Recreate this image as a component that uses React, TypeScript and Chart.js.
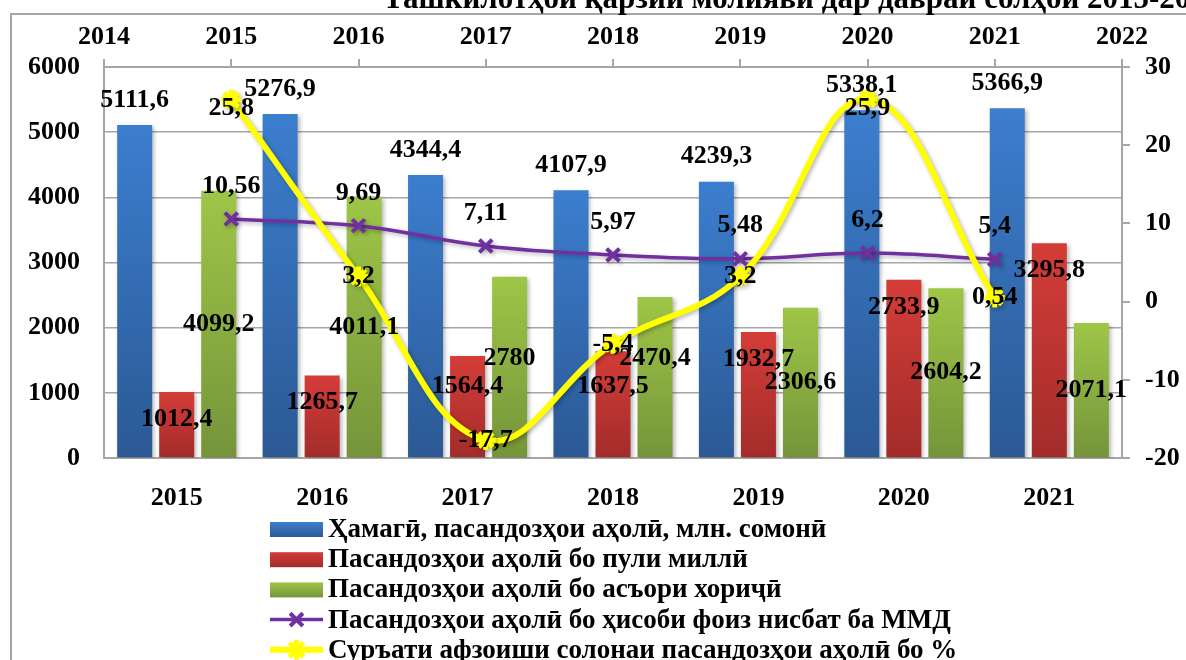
import { useEffect, useRef } from 'react';
import { Chart, registerables } from 'chart.js';

Chart.register(...registerables);

const categories = ['2015', '2016', '2017', '2018', '2019', '2020', '2021'];
const topAxisLabels = ['2014', '2015', '2016', '2017', '2018', '2019', '2020', '2021', '2022'];
const totalDeposits = [5111.6, 5276.9, 4344.4, 4107.9, 4239.3, 5338.1, 5366.9];
const nationalCurrency = [1012.4, 1265.7, 1564.4, 1637.5, 1932.7, 2733.9, 3295.8];
const foreignCurrency = [4099.2, 4011.1, 2780, 2470.4, 2306.6, 2604.2, 2071.1];
const shareOfGdp = [null, 10.56, 9.69, 7.11, 5.97, 5.48, 6.2, 5.4, null];
const annualGrowth = [null, 25.8, 3.2, -17.7, -5.4, 3.2, 25.9, 0.54, null];

const seriesNames = [
  'Ҳамагӣ, пасандозҳои аҳолӣ, млн. сомонӣ',
  'Пасандозҳои аҳолӣ бо пули миллӣ',
  'Пасандозҳои аҳолӣ бо асъори хориҷӣ',
  'Пасандозҳои аҳолӣ бо ҳисоби фоиз нисбат ба ММД',
  'Суръати афзоиши солонаи пасандозҳои аҳолӣ бо %',
];
const titleText = 'Ташкилотҳои қарзии молиявӣ дар давраи солҳои 2015-2021';

const FONT = '"Liberation Serif", "Times New Roman", serif';
const GRID = '#a6a6a6';

const BLUE = ['#3c7ecf', '#2b5994'];
const RED = ['#d43d38', '#a22c2a'];
const GREEN = ['#9ec647', '#75943a'];
const PURPLE = '#7030a0';
const YELLOW = '#ffff00';

const W = 1186;
const H = 660;
const AREA = { left: 104, right: 1122, top: 67, bottom: 458 };

const fmt = (v: number) => String(v).replace('.', ',');

function barBg(colors: string[]) {
  return (context: any) => {
    const chart = context.chart;
    const { ctx, chartArea, scales } = chart;
    if (!chartArea || context.type !== 'data' || !scales.y) return colors[0];
    const v = context.raw as number;
    const yTop = scales.y.getPixelForValue(v);
    const yBot = scales.y.getPixelForValue(0);
    if (!isFinite(yTop) || !isFinite(yBot) || yTop === yBot) return colors[0];
    const g = ctx.createLinearGradient(0, yTop, 0, yBot);
    g.addColorStop(0, colors[0]);
    g.addColorStop(1, colors[1]);
    return g;
  };
}

const shadowPlugin = {
  id: 'shadow',
  beforeDatasetDraw(chart: any) {
    const ctx = chart.ctx;
    ctx.save();
    ctx.shadowColor = 'rgba(0,0,0,0.28)';
    ctx.shadowBlur = 4;
    ctx.shadowOffsetX = 2;
    ctx.shadowOffsetY = 2;
  },
  afterDatasetDraw(chart: any) {
    chart.ctx.restore();
  },
};

type Lbl = { text: string; x: number; y: number; j: number };

function collectLabels(chart: any): Lbl[] {
  const { chartArea } = chart;
  const out: Lbl[] = [];
  chart.data.datasets.forEach((ds: any, i: number) => {
    const meta = chart.getDatasetMeta(i);
    const mode = ds.labelMode;
    meta.data.forEach((el: any, j: number) => {
      const v = ds.data[j];
      if (v == null) return;
      let y = el.y;
      if (mode === 'outsideEnd') y = el.y - 25;
      else if (mode === 'insideEnd') y = el.y + 27;
      else if (mode === 'center') y = (el.y + el.base) / 2;
      else if (mode === 'above') y = el.y - 33;
      else if (mode === 'onPoint') y = Math.max(el.y, chartArea.top + 41);
      out.push({ text: fmt(v), x: el.x, y, j });
    });
  });
  return out;
}

// keep neighbouring bar labels of one category from printing over each other
function separate(labels: Lbl[]) {
  for (let a = 0; a < labels.length; a++) {
    for (let b = a + 1; b < labels.length; b++) {
      const p = labels[a];
      const q = labels[b];
      if (p.j !== q.j) continue;
      if (Math.abs(p.x - q.x) > 80) continue;
      const upper = p.y <= q.y ? p : q;
      const lower = upper === p ? q : p;
      const d = lower.y - upper.y;
      if (d >= 22) continue;
      const need = 28 - d;
      upper.y -= need * 0.7;
      lower.y += need * 0.3;
    }
  }
  return labels;
}

const framePlugin = {
  id: 'frame',
  beforeDraw(chart: any) {
    const ctx = chart.ctx;
    ctx.save();
    ctx.fillStyle = '#fff';
    ctx.fillRect(0, 0, chart.width, chart.height);
    ctx.strokeStyle = GRID;
    ctx.lineWidth = 2;
    ctx.beginPath();
    ctx.moveTo(11, chart.height);
    ctx.lineTo(11, 14);
    ctx.lineTo(chart.width, 14);
    ctx.stroke();
    ctx.font = `bold 31px ${FONT}`;
    ctx.fillStyle = '#000';
    ctx.textAlign = 'left';
    ctx.textBaseline = 'alphabetic';
    ctx.fillText(titleText, 383, 8);
    ctx.restore();
  },
};

function drawLegend(ctx: CanvasRenderingContext2D, datasets: any[]) {
  const x0 = 270;
  const x1 = 323;
  datasets.forEach((ds: any, i: number) => {
    const cy = 529 + i * 30.2;
    ctx.save();
    if (ds.type === 'bar') {
      const g = ctx.createLinearGradient(0, cy - 7, 0, cy + 8);
      g.addColorStop(0, ds.gradientColors[0]);
      g.addColorStop(1, ds.gradientColors[1]);
      ctx.fillStyle = g;
      ctx.fillRect(x0, cy - 7, x1 - x0, 15);
    } else {
      ctx.strokeStyle = ds.borderColor;
      ctx.lineWidth = ds.borderWidth;
      ctx.beginPath();
      ctx.moveTo(x0, cy);
      ctx.lineTo(x1, cy);
      ctx.stroke();
      const r = ds.pointRadius;
      ctx.lineWidth = ds.pointBorderWidth;
      ctx.beginPath();
      const cx = (x0 + x1) / 2;
      const o = Math.cos(Math.PI / 4) * r;
      ctx.moveTo(cx - o, cy - o); ctx.lineTo(cx + o, cy + o);
      ctx.moveTo(cx - o, cy + o); ctx.lineTo(cx + o, cy - o);
      if (ds.pointStyle === 'star') {
        ctx.moveTo(cx, cy - r); ctx.lineTo(cx, cy + r);
        ctx.moveTo(cx - r, cy); ctx.lineTo(cx + r, cy);
      }
      ctx.stroke();
    }
    ctx.font = `bold 27px ${FONT}`;
    ctx.fillStyle = '#000';
    ctx.textAlign = 'left';
    ctx.textBaseline = 'middle';
    ctx.fillText(ds.label, 328, cy + 1);
    ctx.restore();
  });
}

const tickFont = { family: FONT, size: 26, weight: 'bold' as const };

export default function App() {
  const barRef = useRef<HTMLCanvasElement | null>(null);
  const lineRef = useRef<HTMLCanvasElement | null>(null);

  useEffect(() => {
    if (!barRef.current || !lineRef.current) return;

    const barDataset = (label: string, data: number[], colors: string[], labelMode: string) => ({
      type: 'bar',
      label,
      data,
      backgroundColor: barBg(colors),
      gradientColors: colors,
      labelMode,
      categoryPercentage: 0.867,
      barPercentage: 0.833,
    });

    const barChart = new Chart(barRef.current, {
      type: 'bar',
      data: {
        labels: categories,
        datasets: [
          barDataset(seriesNames[0], totalDeposits, BLUE, 'outsideEnd'),
          barDataset(seriesNames[1], nationalCurrency, RED, 'insideEnd'),
          barDataset(seriesNames[2], foreignCurrency, GREEN, 'center'),
        ] as any,
      },
      options: {
        responsive: false,
        animation: false,
        devicePixelRatio: 1,
        layout: { padding: { top: AREA.top, left: 0, right: W - AREA.right, bottom: 140 } },
        plugins: { legend: { display: false }, tooltip: { enabled: false } },
        scales: {
          x: {
            type: 'category',
            position: 'bottom',
            offset: true,
            grid: { display: true, drawOnChartArea: false, drawTicks: false, color: GRID },
            border: { display: true, color: GRID, width: 2 },
            ticks: { font: tickFont, color: '#000', padding: 25, maxRotation: 0, autoSkip: false },
            afterFit: (s: any) => { s.height = H - 140 - AREA.bottom; },
          },
          y: {
            type: 'linear',
            position: 'left',
            min: 0,
            max: 6000,
            grid: { color: GRID, lineWidth: 1.5, drawTicks: false },
            border: { display: true, color: GRID, width: 2 },
            ticks: { stepSize: 1000, font: tickFont, color: '#000', padding: 24, callback: (v: any) => String(v) },
            afterFit: (s: any) => { s.width = AREA.left; },
          },
        },
      } as any,
      plugins: [framePlugin, shadowPlugin],
    });

    const topPlugin = {
      id: 'labelsAndLegend',
      afterDatasetsDraw(chart: any) {
        const ctx = chart.ctx;
        ctx.save();
        ctx.font = `bold 26px ${FONT}`;
        ctx.fillStyle = '#000';
        ctx.textAlign = 'center';
        ctx.textBaseline = 'middle';
        const all = [...separate(collectLabels(barChart)), ...collectLabels(chart)];
        all.forEach((l) => ctx.fillText(l.text, l.x, l.y));
        ctx.restore();
      },
      afterDraw(chart: any) {
        drawLegend(chart.ctx, [...barChart.data.datasets, ...chart.data.datasets]);
      },
    };

    const lineChart = new Chart(lineRef.current, {
      type: 'line',
      data: {
        labels: topAxisLabels,
        datasets: [
          {
            type: 'line',
            label: seriesNames[3],
            data: shareOfGdp,
            borderColor: PURPLE,
            backgroundColor: PURPLE,
            borderWidth: 3.5,
            pointStyle: 'crossRot',
            pointRadius: 9,
            pointBorderWidth: 4,
            pointBorderColor: PURPLE,
            tension: 0.4,
            labelMode: 'above',
            xAxisID: 'xTop',
            yAxisID: 'yRight',
            order: 2,
          },
          {
            type: 'line',
            label: seriesNames[4],
            data: annualGrowth,
            borderColor: YELLOW,
            backgroundColor: YELLOW,
            borderWidth: 6,
            pointStyle: 'star',
            pointRadius: 10,
            pointBorderWidth: 5,
            pointBorderColor: YELLOW,
            tension: 0.4,
            labelMode: 'onPoint',
            xAxisID: 'xTop',
            yAxisID: 'yRight',
            order: 1,
          },
        ] as any,
      },
      options: {
        responsive: false,
        animation: false,
        devicePixelRatio: 1,
        layout: { padding: { top: 0, left: AREA.left, right: 0, bottom: H - AREA.bottom } },
        plugins: { legend: { display: false }, tooltip: { enabled: false } },
        scales: {
          xTop: {
            type: 'category',
            position: 'top',
            offset: false,
            grid: { display: true, drawOnChartArea: false, drawTicks: true, tickLength: 8, color: GRID, lineWidth: 2 },
            border: { display: true, color: GRID, width: 2 },
            ticks: { font: tickFont, color: '#000', padding: 6, maxRotation: 0, autoSkip: false },
            afterFit: (s: any) => { s.height = AREA.top; },
          },
          yRight: {
            type: 'linear',
            position: 'right',
            min: -20,
            max: 30,
            grid: { drawOnChartArea: false, drawTicks: true, tickLength: 8, color: GRID, lineWidth: 2 },
            border: { display: true, color: GRID, width: 2 },
            ticks: { stepSize: 10, font: tickFont, color: '#000', padding: 15, callback: (v: any) => String(v) },
            afterFit: (s: any) => { s.width = W - AREA.right; },
          },
        },
      } as any,
      plugins: [shadowPlugin, topPlugin],
    });

    return () => {
      lineChart.destroy();
      barChart.destroy();
    };
  }, []);

  return (
    <div style={{ position: 'fixed', left: 0, top: 0, width: W, height: H, background: '#fff' }}>
      <canvas ref={barRef} width={W} height={H} style={{ position: 'absolute', left: 0, top: 0, width: W, height: H }} />
      <canvas ref={lineRef} width={W} height={H} style={{ position: 'absolute', left: 0, top: 0, width: W, height: H }} />
    </div>
  );
}
